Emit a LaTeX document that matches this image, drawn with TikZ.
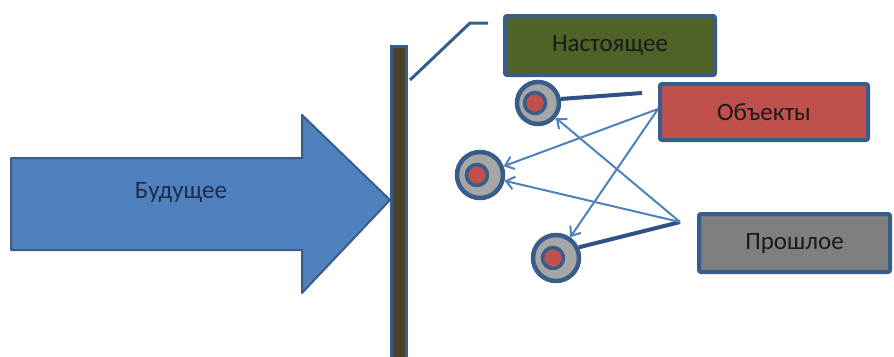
\documentclass[tikz,border=0pt]{standalone}
\usepackage{fontspec}
\setmainfont{Carlito}
\usetikzlibrary{arrows.meta,calc}
\definecolor{olblue}{HTML}{385D8A}
\definecolor{acc}{HTML}{4F81BD}
\definecolor{tailc}{HTML}{2E5287}
\definecolor{barc}{HTML}{4A4228}
\definecolor{greenbox}{HTML}{4F6228}
\definecolor{redbox}{HTML}{C0504D}
\definecolor{graybox}{HTML}{7F7F7F}
\definecolor{ringgray}{HTML}{A6A6A6}
\definecolor{txt}{HTML}{1A1A1A}
\definecolor{navytxt}{HTML}{1F2D4D}
\begin{document}
\begin{tikzpicture}[x=1pt,y=-1pt,
  lbox/.style={draw=olblue,line width=4pt,rounded corners=2pt,text=txt,
    font=\fontsize{25}{28}\selectfont,anchor=north west,inner sep=0pt},
  obj/.style={circle,draw=olblue,line width=4.5pt,fill=ringgray,minimum size=#1,inner sep=0pt,
    path picture={\draw[olblue,line width=3.5pt,fill=redbox]
      ($(path picture bounding box.center)+(-3,0)$) circle[radius=10.5];}},
  conn/.style={acc,line width=2pt,-{Straight Barb[length=8pt,width=13pt,line width=2pt]}},
  tail/.style={tailc,line width=4pt},
]
\useasboundingbox (0,0) rectangle (894,356);
% big arrow
\draw[olblue,line width=2pt,fill=acc,line join=round]
  (11,158) -- (302,158) -- (302,115) -- (390,200) -- (302,293) -- (302,250) -- (11,250) -- cycle;
\node[text=navytxt,font=\fontsize{25}{28}\selectfont] (fut) at (181,193) {Будущее};
% bar
\node[draw=olblue,line width=3pt,fill=barc,anchor=north west,minimum width=15pt,minimum height=313pt,inner sep=0pt] (bar) at (390,45) {};
% boxes
\node[lbox,fill=greenbox,minimum width=210pt,minimum height=59pt] (now) at (503,14) {Настоящее};
\node[lbox,fill=redbox,minimum width=208pt,minimum height=56pt] (ob) at (658,82) {Объекты};
\node[lbox,fill=graybox,minimum width=191pt,minimum height=58pt] (past) at (697,212) {Прошлое};
% line from bar to now
\coordinate (b1) at ($(bar.north east)+(2,35)$);
\coordinate (b2) at (470,23);
\coordinate (b3) at ($(now.north west)+(-15,9)$);
\draw[olblue,line width=3pt] (b1) -- (b2) -- (b3);
% objects
\node[obj=42pt] (c1) at (538,103) {};
\node[obj=46pt] (c2) at (480,175) {};
\node[obj=46pt] (c3) at (556,258) {};
% tails
\coordinate (t1) at (642,93);
\coordinate (pp) at (680,222);
\coordinate (op) at ($(ob.west)+(0,-3)$);
\draw[tail] (c1.10) -- (t1);
\draw[tail] (c3.25) -- (pp);
% arrows
\draw[conn] (op) -- (c2);
\draw[conn] (op) -- (c3);
\draw[conn] (pp) -- (c1);
\draw[conn] (pp) -- (c2);
\end{tikzpicture}
\end{document}
